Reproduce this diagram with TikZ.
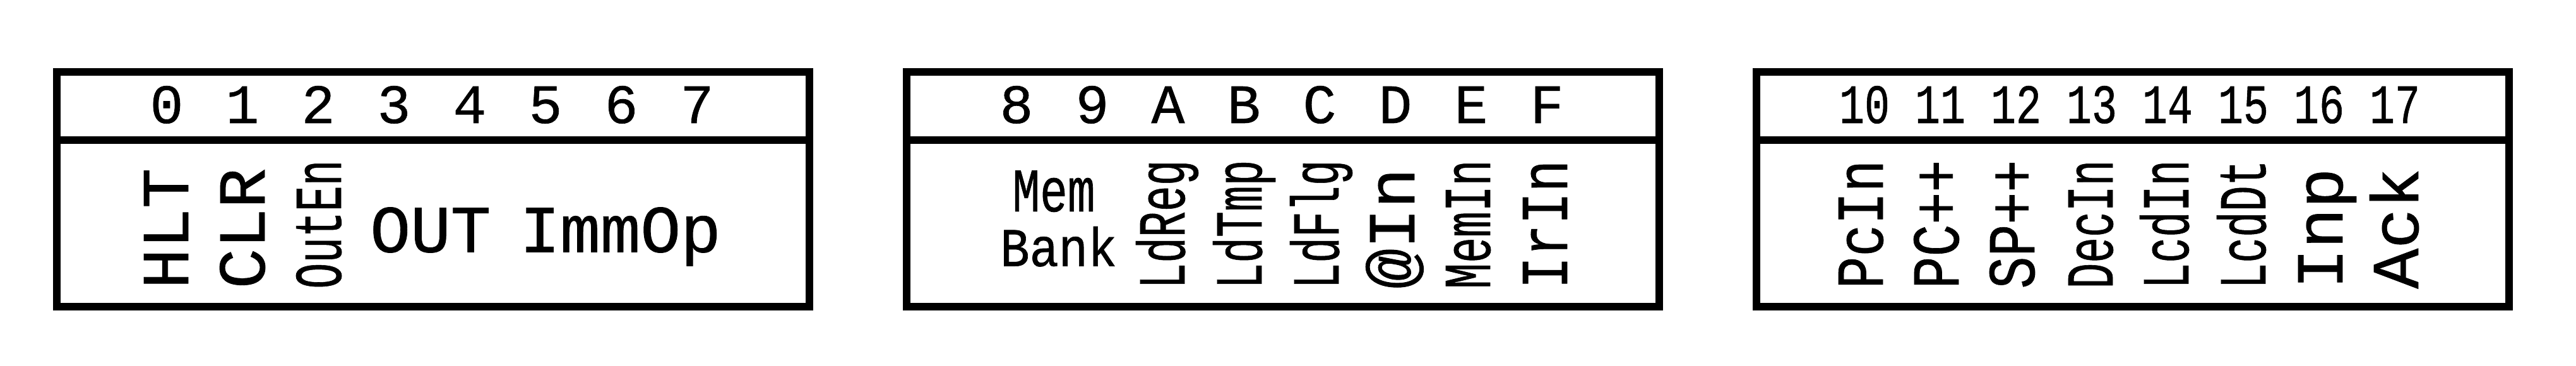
\documentclass[tikz,border=0pt]{standalone}
\usepackage{fontspec}
\usepackage{graphicx}
\usetikzlibrary{positioning}
\newfontfamily\bitfont[FakeBold=0.8]{Liberation Mono}
% long signal names are squeezed to one common length
\newcommand{\squeezed}[1]{\resizebox{1.02cm}{\height}{#1}}

\begin{document}
\begin{tikzpicture}[
    frame/.style={line width=0.058cm, black},
    bitnum/.style={font=\bitfont\fontsize{12.5}{12.5}\selectfont, inner sep=0pt, anchor=base},
    signal/.style={font=\bitfont\fontsize{15.1}{15.1}\selectfont, inner sep=0pt, rotate=90, anchor=base west},
    flat/.style={font=\bitfont\fontsize{15.1}{15.1}\selectfont, inner sep=0pt, anchor=base west}
]
    \useasboundingbox (0,0) rectangle (20.4,2.9);

    % Register frames
    \foreach \bx in {0.45, 7.18, 13.91} {
        \draw[frame] (\bx,0.471) rectangle ++(5.96,1.858);
        \draw[frame] (\bx,1.791) -- ++(5.96,0);
    }

    % Bit numbers
    \foreach \d [count=\i from 0] in {0,...,7}
        \node[bitnum] (bit\d) at (1.32+0.6*\i, 1.925) {\d};
    \foreach \d [count=\i from 0] in {8,9,A,B,C,D,E,F}
        \node[bitnum] (bit\d) at (8.05+0.6*\i, 1.925) {\d};
    \foreach \d [count=\i from 0] in {10,...,17}
        \node[bitnum] (bit\d) at (14.765+0.6*\i, 1.925) {\scalebox{0.76}[1]{\d}};

    % Bits 0-7
    \node[signal] (hlt) at (1.49,0.605) {HLT};
    \node[signal] (clr) at (2.095,0.605) {CLR};
    \node[signal] (outen) at (2.70,0.605) {\squeezed{OutEn}};
    \node[flat] (out) at (2.925,0.9025) {OUT};
    \node[flat] (immop) at (4.11,0.9025) {ImmOp};

    % Bits 8-F
    \node[font=\bitfont\fontsize{14.0}{14.0}\selectfont, inner sep=0pt, anchor=base] (mem) at (8.345,1.225) {\scalebox{0.74}[1]{Mem}};
    \node[font=\bitfont\fontsize{12.3}{12.3}\selectfont, inner sep=0pt, anchor=base] (bank) at (8.384,0.7915) {\scalebox{0.89}[1]{Bank}};
    \node[signal] (ldreg) at (9.38,0.605) {\squeezed{LdReg}};
    \node[signal] (ldtmp) at (9.99,0.605) {\squeezed{LdTmp}};
    \node[signal] (ldflg) at (10.60,0.605) {\squeezed{LdFlg}};
    \node[signal] (atin) at (11.20,0.605) {@In};
    \node[signal] (memin) at (11.80,0.605) {\squeezed{MemIn}};
    \node[signal] (irin) at (12.41,0.605) {\squeezed{IrIn}};

    % Bits 10-17
    \node[signal] (pcin) at (14.91,0.605) {\squeezed{PcIn}};
    \node[signal] (pcinc) at (15.51,0.605) {\squeezed{PC++}};
    \node[signal] (spinc) at (16.11,0.605) {\squeezed{SP++}};
    \node[signal] (decin) at (16.73,0.605) {\squeezed{DecIn}};
    \node[signal] (lcdin) at (17.33,0.605) {\squeezed{LcdIn}};
    \node[signal] (lcddt) at (17.94,0.605) {\squeezed{LcdDt}};
    \node[signal] (inp) at (18.55,0.605) {Inp};
    \node[signal] (ack) at (19.15,0.605) {Ack};
\end{tikzpicture}
\end{document}
